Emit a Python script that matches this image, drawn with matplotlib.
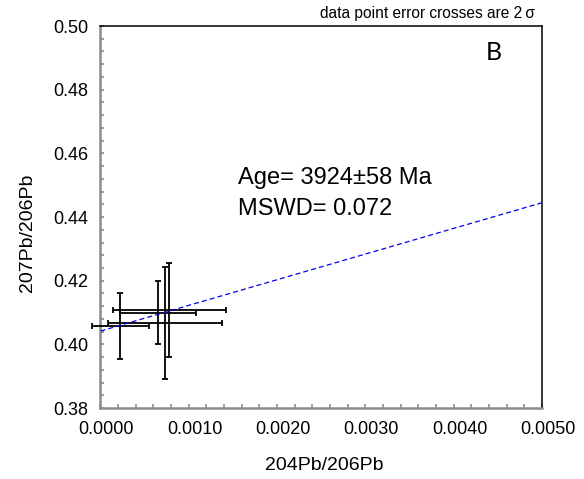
import numpy as np
import matplotlib
matplotlib.use("Agg")
import matplotlib.pyplot as plt
import matplotlib.transforms as mtransforms
from matplotlib.ticker import MultipleLocator, FormatStrFormatter

plt.rcParams['font.family'] = ['Liberation Sans', 'DejaVu Sans']

# data points (204Pb/206Pb, 207Pb/206Pb) with 2-sigma half widths
x_vals = [0.000225, 0.00065, 0.00073, 0.00078]
y_vals = [0.4058, 0.4100, 0.4067, 0.4108]
x_err = [0.000325, 0.00043, 0.000645, 0.00064]
y_err = [0.01035, 0.0098, 0.0176, 0.01485]

# regression line end points
line_x = [0.0, 0.005]
line_y = [0.4042, 0.4445]

age_text = "Age= 3924\u00b158 Ma"
mswd_text = "MSWD= 0.072"
note_text = "data point error crosses are 2\u2009\u03c3"

fig = plt.figure(figsize=(5.84, 4.79), dpi=100)
ax = fig.add_axes([0.172, 0.148, 0.756, 0.7977])

ax.errorbar(x_vals, y_vals, xerr=x_err, yerr=y_err, fmt='none',
            ecolor='black', elinewidth=1.3, capsize=2.2, capthick=1.3,
            clip_on=False, zorder=3)
ax.plot(line_x, line_y, '--', color='#0000ee', lw=0.9, dashes=(4, 2.5), zorder=4)

ax.set_xlim(0, 0.005)
ax.set_ylim(0.38, 0.50)
ax.xaxis.set_major_locator(MultipleLocator(0.001))
ax.xaxis.set_minor_locator(MultipleLocator(0.0002))
ax.yaxis.set_major_locator(MultipleLocator(0.02))
ax.yaxis.set_minor_locator(MultipleLocator(0.004))
ax.xaxis.set_major_formatter(FormatStrFormatter('%.4f'))
ax.yaxis.set_major_formatter(FormatStrFormatter('%.2f'))

ax.tick_params(which='both', direction='in', length=3, width=1.2,
               color='#8c8c8c', labelsize=13, pad=9)

# x tick labels sit a little right of their ticks in the original
shift = mtransforms.ScaledTranslation(6 / 100, 0, fig.dpi_scale_trans)
for lbl in ax.get_xticklabels():
    lbl.set_transform(lbl.get_transform() + shift)

for s in ['left', 'bottom']:
    ax.spines[s].set_color('#8c8c8c')
    ax.spines[s].set_linewidth(1.8)
for s in ['top', 'right']:
    ax.spines[s].set_color('black')
    ax.spines[s].set_linewidth(1.1)

ax.set_xlabel("204Pb/206Pb", fontsize=14)
ax.set_ylabel("207Pb/206Pb", fontsize=14)
ax.xaxis.set_label_coords(0.508, -0.149)
ax.xaxis.label.set_va('center')
ax.yaxis.set_label_coords(-0.166, 0.46)
ax.yaxis.label.set_va('center')

fig.text(238 / 584, 1 - 184 / 479, age_text, fontsize=17, va='baseline')
fig.text(238 / 584, 1 - 215 / 479, mswd_text, fontsize=17, va='baseline')
fig.text(535 / 584, 1 - 18 / 479, note_text, fontsize=11.2, ha='right', va='baseline')
ax.text(0.89, 0.93, "B", transform=ax.transAxes, fontsize=18,
        family=['Lato', 'DejaVu Sans'], ha='center', va='center')

fig.savefig("out.png", dpi=100)
